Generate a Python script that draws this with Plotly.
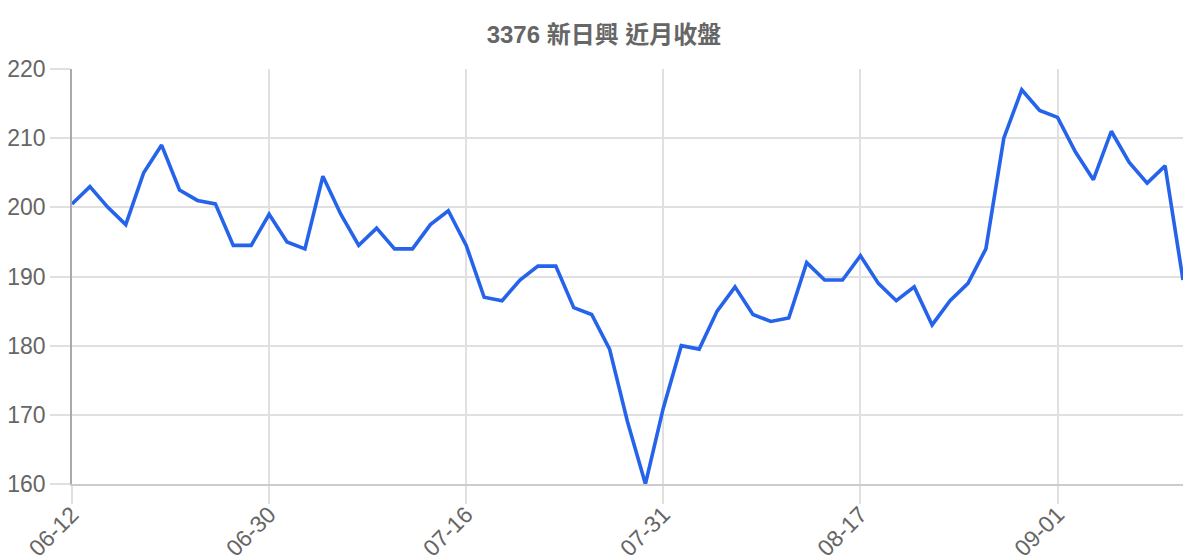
import plotly.graph_objects as go

# trading dates (MM-DD) and closing prices
dates = [
    "06-12", "06-13", "06-16", "06-17", "06-18", "06-19", "06-20", "06-23", "06-24", "06-26", "06-27",
    "06-30", "07-01", "07-03", "07-04", "07-07", "07-08", "07-09", "07-10", "07-11", "07-14", "07-15",
    "07-16", "07-17", "07-18", "07-21", "07-22", "07-23", "07-24", "07-25", "07-28", "07-29", "07-30",
    "07-31", "08-01", "08-04", "08-05", "08-06", "08-07", "08-08", "08-11", "08-12", "08-13", "08-14",
    "08-17", "08-18", "08-19", "08-20", "08-21", "08-22", "08-25", "08-26", "08-27", "08-28", "08-29",
    "09-01", "09-02", "09-03", "09-04", "09-05", "09-08", "09-09", "09-10",
]
close = [
    200.5, 203, 200, 197.5, 205, 209, 202.5, 201, 200.5, 194.5, 194.5,
    199, 195, 194, 204.5, 199, 194.5, 197, 194, 194, 197.5, 199.5,
    194.5, 187, 186.5, 189.5, 191.5, 191.5, 185.5, 184.5, 179.5, 169, 160,
    171, 180, 179.5, 185, 188.5, 184.5, 183.5, 184, 192, 189.5, 189.5,
    193, 189, 186.5, 188.5, 183, 186.5, 189, 194, 210, 217, 214,
    213, 208, 204, 211, 206.5, 203.5, 206, 189.5,
]
tick_labels = ["06-12", "06-30", "07-16", "07-31", "08-17", "09-01"]
title = "3376 新日興 近月收盤"

fig = go.Figure(
    go.Scatter(
        x=dates,
        y=close,
        mode="lines",
        line=dict(color="#2563eb", width=3.6),
        hoverinfo="x+y",
    )
)

font_family = "Liberation Sans, Noto Sans CJK TC, sans-serif"

# page body adds an 8px offset, so the figure is a bit smaller than the window
fig.update_layout(
    width=1192,
    height=552,
    paper_bgcolor="white",
    plot_bgcolor="white",
    showlegend=False,
    margin=dict(l=64, r=17, t=61, b=76),
    title=dict(
        text="<b>" + title + "</b>",
        x=0.5,
        xanchor="center",
        y=0.951,
        yanchor="middle",
        font=dict(family=font_family, size=24, color="#666666"),
    ),
    font=dict(family=font_family, color="#666666"),
)

fig.update_xaxes(
    type="category",
    range=[0, len(dates) - 1],
    tickmode="array",
    tickvals=tick_labels,
    ticktext=tick_labels,
    tickangle=-45,
    tickfont=dict(size=23, color="#666666"),
    ticklabelstandoff=-12,
    showgrid=True,
    gridcolor="#e0e0e0",
    gridwidth=1.5,
    ticks="outside",
    ticklen=18,
    tickwidth=1.5,
    tickcolor="#e0e0e0",
    showline=True,
    linecolor="#cccccc",
    linewidth=2,
    zeroline=False,
    automargin=False,
)

fig.update_yaxes(
    range=[160, 220],
    tickmode="linear",
    tick0=160,
    dtick=10,
    tickfont=dict(size=23, color="#666666"),
    showgrid=True,
    gridcolor="#e0e0e0",
    gridwidth=1.5,
    ticks="outside",
    ticklen=20,
    tickwidth=1.5,
    tickcolor="#e0e0e0",
    showline=True,
    linecolor="#aaaaaa",
    linewidth=1.5,
    zeroline=False,
    automargin=False,
)

fig.write_html("out.html")
